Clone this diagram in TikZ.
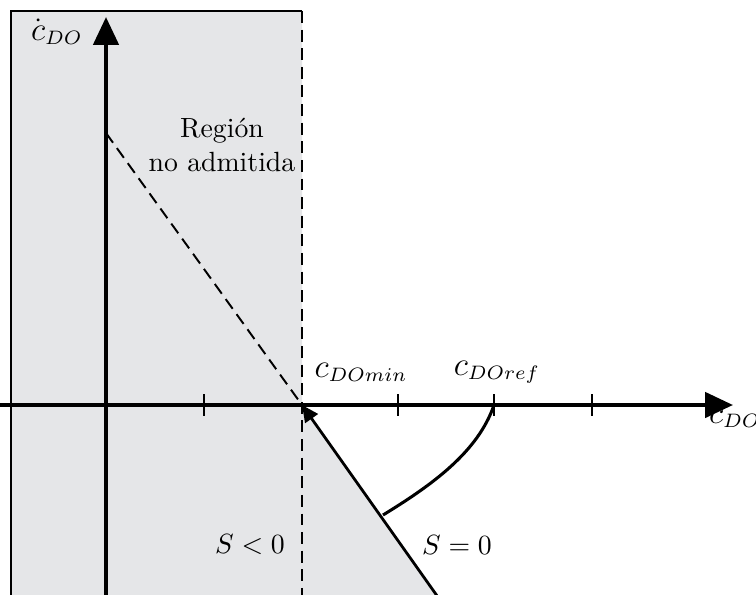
\documentclass[tikz,border=0pt]{standalone}
\usetikzlibrary{arrows.meta}
\definecolor{regiongray}{RGB}{229,230,232}
\newcommand\myc{\mbox{\fontsize{12}{14}\selectfont$c$}}
\begin{document}
\begin{tikzpicture}[x=0.36pt,y=-0.36pt,
  axis/.style={line width=1.5pt,-{Triangle[length=10pt,width=9pt]}},
  border/.style={line width=0.7pt},
  dashline/.style={line width=0.7pt,dash pattern=on 4.3pt off 2.4pt},
  sline/.style={line width=1pt},
  lbl/.style={inner sep=0pt},
  axlbl/.style={inner sep=0pt}]
\useasboundingbox (0,0) rectangle (756,594);
\clip (0,0) rectangle (756,594);
% coordinates
\coordinate (O) at (302,405);
\coordinate (Ytop) at (106,133);
\coordinate (Send) at (440,600);
\coordinate (Cref) at (494,405);
\coordinate (Cs) at (383,515);
\coordinate (Xs) at (-5,405);
\coordinate (Xe) at (733,405);
\coordinate (Ys) at (106,600);
\coordinate (Ye) at (106,17);
\coordinate (BL) at (11,600);
\coordinate (TL) at (11,11);
\coordinate (TR) at (302,11);
\coordinate (BR) at (302,600);
% shaded region
\fill[regiongray] (BL) -- (TL) -- (TR) -- (O) -- (Send) -- (BR) -- cycle;
\fill[regiongray] (TR) rectangle (BL);
% borders
\draw[border] (BL) -- (TL) -- (TR);
\draw[dashline] (TR) -- (BR);
\draw[dashline] (Ytop) -- (O);
% axes
\draw[axis] (Xs) -- (Xe);
\draw[axis] (Ys) -- (Ye);
% ticks
\foreach \x in {204,398,494,592}
  \draw[border] (\x,394) -- (\x,416);
% S=0 line with arrow
\draw[sline,-{Triangle[length=6pt,width=5.5pt]}] (Send) -- (O);
% curve
\draw[line width=1.1pt] (Cref) .. controls (478,452) and (432,485) .. (Cs);
% labels
\node[axlbl] (ldot) at (57,32) {$\dot{\myc}_{DO}$};
\node[axlbl] (lx) at (735,418) {$\myc_{DO}$};
\node[axlbl] (lmin) at (361,372) {$\myc_{DOmin}$};
\node[axlbl] (lref) at (497,372) {$\myc_{DOref}$};
\node[lbl,align=center] (lreg) at (222,145) {Región\\no admitida};
\node[lbl] (lsn) at (250,545) {$S<0$};
\node[lbl] (lsz) at (457,545) {$S=0$};
\end{tikzpicture}
\end{document}
